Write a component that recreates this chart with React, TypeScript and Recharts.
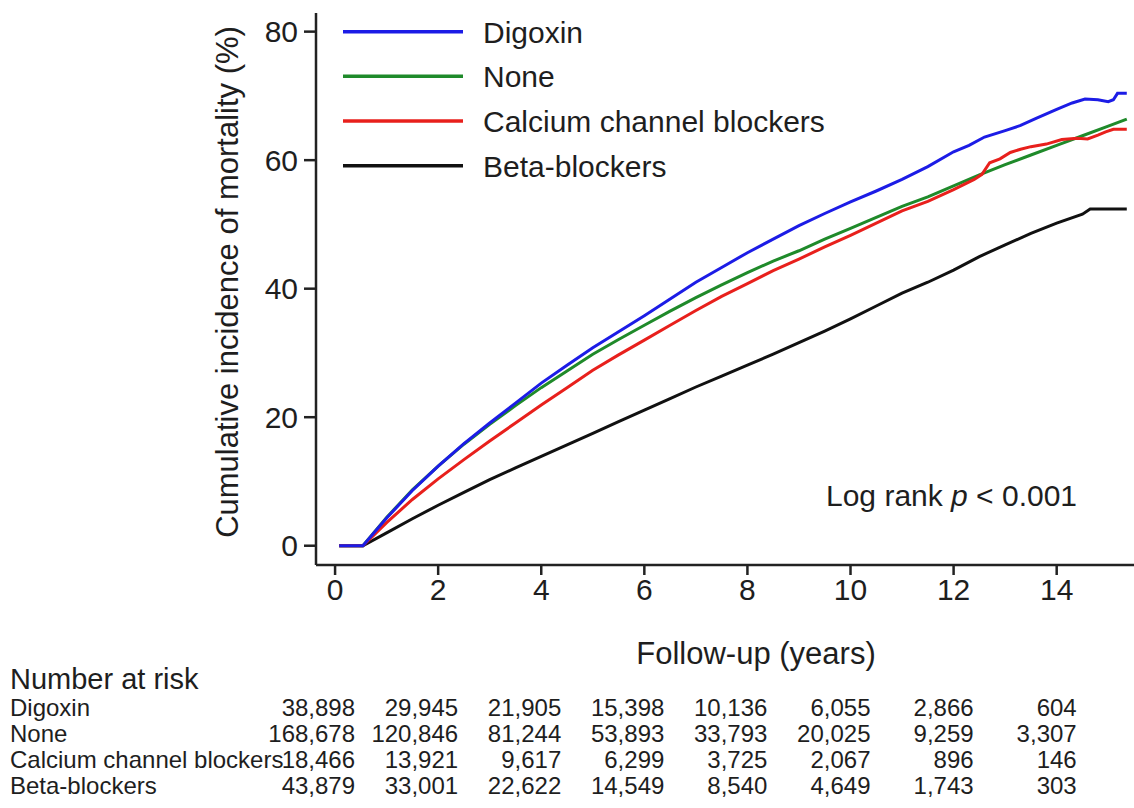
import React from 'react';
import { LineChart, Line, XAxis, YAxis } from 'recharts';

// follow-up time (years) and cumulative incidence (%)
const digoxinT = [0.08, 0.54, 1.0, 1.5, 2.0, 2.5, 3.0, 3.5, 4.0, 4.5, 5.0, 5.5, 6.0, 6.5, 7.0, 7.5, 8.0, 8.5, 9.0, 9.5, 10.0, 10.5, 11.0, 11.5, 12.0, 12.3, 12.6, 13.0, 13.3, 13.6, 14.0, 14.3, 14.55, 14.8, 15.0, 15.1, 15.18, 15.36];
const digoxinV = [0, 0, 4.3, 8.6, 12.4, 15.9, 19.1, 22.2, 25.3, 28.1, 30.8, 33.3, 35.8, 38.4, 41.0, 43.3, 45.6, 47.7, 49.8, 51.7, 53.5, 55.2, 57.0, 59.0, 61.3, 62.3, 63.6, 64.6, 65.4, 66.5, 67.9, 68.9, 69.5, 69.4, 69.1, 69.4, 70.4, 70.4];

const noneT = [0.08, 0.54, 1.0, 1.5, 2.0, 2.5, 3.0, 3.5, 4.0, 4.5, 5.0, 5.5, 6.0, 6.5, 7.0, 7.5, 8.0, 8.5, 9.0, 9.5, 10.0, 10.5, 11.0, 11.5, 12.0, 12.5, 13.0, 13.5, 14.0, 14.5, 15.0, 15.36];
const noneV = [0, 0, 4.4, 8.7, 12.4, 15.8, 18.9, 21.8, 24.6, 27.2, 29.8, 32.1, 34.3, 36.5, 38.6, 40.6, 42.5, 44.3, 45.9, 47.7, 49.4, 51.1, 52.8, 54.3, 56.0, 57.7, 59.3, 60.8, 62.3, 63.8, 65.3, 66.4];

const ccbT = [0.08, 0.54, 1.0, 1.5, 2.0, 2.5, 3.0, 3.5, 4.0, 4.5, 5.0, 5.5, 6.0, 6.5, 7.0, 7.5, 8.0, 8.5, 9.0, 9.5, 10.0, 10.5, 11.0, 11.5, 12.0, 12.4, 12.55, 12.7, 12.9, 13.1, 13.3, 13.5, 13.8, 14.1, 14.4, 14.6, 14.8, 14.95, 15.1, 15.36];
const ccbV = [0, 0, 3.6, 7.2, 10.4, 13.4, 16.3, 19.1, 21.9, 24.6, 27.3, 29.7, 32.0, 34.3, 36.6, 38.8, 40.8, 42.8, 44.6, 46.5, 48.3, 50.2, 52.1, 53.6, 55.4, 57.0, 57.8, 59.6, 60.2, 61.2, 61.7, 62.1, 62.5, 63.2, 63.4, 63.3, 63.9, 64.4, 64.8, 64.8];

const betaT = [0.08, 0.54, 1.0, 1.5, 2.0, 2.5, 3.0, 3.5, 4.0, 4.5, 5.0, 5.5, 6.0, 6.5, 7.0, 7.5, 8.0, 8.5, 9.0, 9.5, 10.0, 10.5, 11.0, 11.5, 12.0, 12.5, 13.0, 13.5, 14.0, 14.5, 14.65, 15.36];
const betaV = [0, 0, 2.0, 4.2, 6.3, 8.3, 10.3, 12.1, 13.9, 15.7, 17.5, 19.3, 21.1, 22.9, 24.7, 26.4, 28.1, 29.8, 31.6, 33.4, 35.3, 37.3, 39.3, 41.0, 42.9, 45.0, 46.8, 48.6, 50.2, 51.6, 52.4, 52.4];

const xTicks = [0, 2, 4, 6, 8, 10, 12, 14];
const yTicks = [0, 20, 40, 60, 80];

// number at risk, at years 0, 2, ... 14
const riskYears = [0, 2, 4, 6, 8, 10, 12, 14];
const riskDigoxin = [38898, 29945, 21905, 15398, 10136, 6055, 2866, 604];
const riskNone = [168678, 120846, 81244, 53893, 33793, 20025, 9259, 3307];
const riskCcb = [18466, 13921, 9617, 6299, 3725, 2067, 896, 146];
const riskBeta = [43879, 33001, 22622, 14549, 8540, 4649, 1743, 303];

const toPoints = (t: number[], v: number[]) => t.map((x, i) => ({ t: x, v: v[i] }));

const series = [
  { name: 'Digoxin', color: '#1c1ce6', data: toPoints(digoxinT, digoxinV), risk: riskDigoxin },
  { name: 'None', color: '#1f8a2a', data: toPoints(noneT, noneV), risk: riskNone },
  { name: 'Calcium channel blockers', color: '#e8201c', data: toPoints(ccbT, ccbV), risk: riskCcb },
  { name: 'Beta-blockers', color: '#111111', data: toPoints(betaT, betaV), risk: riskBeta },
];
const drawOrder = [3, 1, 2, 0];

const FONT = '"Liberation Sans", Arial, Helvetica, sans-serif';
const TEXT = '#1e1e1e';
const W = 1134;
const CHART_H = 700;
const PLOT_LEFT = 316;
const PLOT_RIGHT = 1134;
const X_DOMAIN: [number, number] = [-0.37, 15.5];
const Y_DOMAIN: [number, number] = [-3.0, 82.9];

const xPos = (t: number) =>
  PLOT_LEFT + ((t - X_DOMAIN[0]) / (X_DOMAIN[1] - X_DOMAIN[0])) * (PLOT_RIGHT - PLOT_LEFT);

const fmt = (n: number) => n.toLocaleString('en-US');

export default function App() {
  const legendY = [31.7, 76.3, 121, 165.7];
  const rowY = [716, 742, 768, 794];

  return (
    <div style={{ position: 'absolute', left: 0, top: 0, width: W, height: 808, background: '#fff', fontFamily: FONT }}>
      <LineChart width={W} height={CHART_H} margin={{ top: 13, right: 0, bottom: 0, left: 0 }}>
        <XAxis
          dataKey="t"
          type="number"
          domain={X_DOMAIN}
          ticks={xTicks}
          allowDataOverflow
          height={CHART_H - 565}
          axisLine={{ stroke: '#222', strokeWidth: 2.5 }}
          tickLine={{ stroke: '#222', strokeWidth: 2.5 }}
          tickSize={10}
          tickMargin={4}
          tick={{ fill: TEXT, fontSize: 30, fontFamily: FONT }}
        />
        <YAxis
          type="number"
          domain={Y_DOMAIN}
          ticks={yTicks}
          allowDataOverflow
          width={PLOT_LEFT}
          axisLine={{ stroke: '#222', strokeWidth: 2.5 }}
          tickLine={{ stroke: '#222', strokeWidth: 2.5 }}
          tickSize={12}
          tickMargin={6}
          tick={{ fill: TEXT, fontSize: 30, fontFamily: FONT }}
        />
        {drawOrder.map((i) => (
          <Line
            key={series[i].name}
            data={series[i].data}
            dataKey="v"
            type="linear"
            stroke={series[i].color}
            strokeWidth={3}
            dot={false}
            isAnimationActive={false}
          />
        ))}
      </LineChart>

      <svg width={W} height={808} style={{ position: 'absolute', left: 0, top: 0, pointerEvents: 'none' }} fontFamily={FONT}>
        {/* axis titles */}
        <text x={238} y={282} transform="rotate(-90 238 282)" textAnchor="middle" fontSize={31} fill={TEXT}>
          Cumulative incidence of mortality (%)
        </text>
        <text x={756} y={664} textAnchor="middle" fontSize={31} fill={TEXT}>
          Follow-up (years)
        </text>

        {/* legend */}
        {series.map((s, i) => (
          <g key={s.name}>
            <line x1={343} x2={463} y1={legendY[i]} y2={legendY[i]} stroke={s.color} strokeWidth={3.5} />
            <text x={483} y={legendY[i] + 11} fontSize={30} fill={TEXT}>
              {s.name}
            </text>
          </g>
        ))}

        <text x={826} y={506} fontSize={30} fill={TEXT}>
          Log rank <tspan fontStyle="italic">p</tspan> &lt; 0.001
        </text>

        {/* number at risk table */}
        <text x={10} y={689} fontSize={29} fill={TEXT}>
          Number at risk
        </text>
        {series.map((s, i) => (
          <g key={s.name} fontSize={24} fill={TEXT}>
            <text x={10} y={rowY[i]}>{s.name}</text>
            {riskYears.map((yr, j) => (
              <text key={yr} x={xPos(yr) + 20} y={rowY[i]} textAnchor="end">
                {fmt(s.risk[j])}
              </text>
            ))}
          </g>
        ))}
      </svg>
    </div>
  );
}
